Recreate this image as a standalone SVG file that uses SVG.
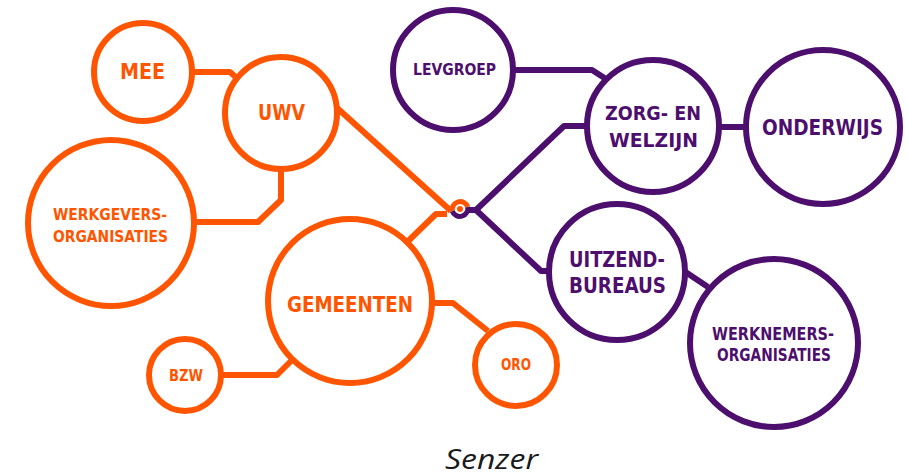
<svg xmlns="http://www.w3.org/2000/svg" width="908" height="476" viewBox="0 0 908 476">
<style>
.o{fill:#fff;stroke:#ff5500;stroke-width:6}
.p{fill:#fff;stroke:#4d0f6e;stroke-width:6}
.lo{fill:none;stroke:#ff5500;stroke-width:6;stroke-linejoin:round}
.lp{fill:none;stroke:#4d0f6e;stroke-width:6;stroke-linejoin:round}
.to{fill:#ff5500;font-family:"DejaVu Sans",sans-serif;font-weight:bold}
.tp{fill:#4d0f6e;font-family:"DejaVu Sans",sans-serif;font-weight:bold}
.cap{fill:#1a1a1a;font-family:"Open Sans",sans-serif;font-style:italic;font-size:27px}
</style>
<rect width="908" height="476" fill="#fff"/>
<g id="connectors">
<path class="lo" d="M192,72 H230 L239,80"/>
<path class="lo" d="M281,168 V200 L258,222 H193"/>
<path class="lo" d="M336,107 L451,211"/>
<path class="lo" d="M404,245 L436,214 H447"/>
<path class="lo" d="M430,303 H453 L488,331"/>
<path class="lo" d="M222,375 H277 L291,361"/>
<path class="lp" d="M513,70 H592 L606,79"/>
<path class="lp" d="M469,210 L476,210 L564,126 H588"/>
<path class="lp" d="M476,210 L541,271 H550"/>
<path class="lp" d="M719,127 H747"/>
<path class="lp" d="M684,271 L708,287"/>
</g>
<g id="hub">
<path d="M452.3,211.1 A8,8 0 0 1 467.7,206.9" fill="none" stroke="#ff5500" stroke-width="5"/>
<path d="M467.7,206.9 A8,8 0 0 1 452.3,211.1" fill="none" stroke="#4d0f6e" stroke-width="5"/>
<circle cx="460" cy="209" r="3" fill="#ff5500"/>
</g>
<g id="mee"><circle class="o" cx="143" cy="72" r="49"/><text class="to" x="120" y="79" font-size="21" textLength="45" lengthAdjust="spacingAndGlyphs">MEE</text></g>
<g id="uwv"><circle class="o" cx="281" cy="113" r="56"/><text class="to" x="258" y="120" font-size="22" textLength="47" lengthAdjust="spacingAndGlyphs">UWV</text></g>
<g id="werkgevers"><circle class="o" cx="111" cy="223" r="83"/><text class="to" x="53" y="220" font-size="16" textLength="114" lengthAdjust="spacingAndGlyphs">WERKGEVERS-</text><text class="to" x="53" y="242" font-size="16" textLength="115" lengthAdjust="spacingAndGlyphs">ORGANISATIES</text></g>
<g id="gemeenten"><circle class="o" cx="350" cy="301" r="82"/><text class="to" x="287" y="312" font-size="22" textLength="126" lengthAdjust="spacingAndGlyphs">GEMEENTEN</text></g>
<g id="bzw"><circle class="o" cx="185" cy="375" r="36"/><text class="to" x="169" y="381" font-size="16" textLength="34" lengthAdjust="spacingAndGlyphs">BZW</text></g>
<g id="oro"><circle class="o" cx="516" cy="365" r="41"/><text class="to" x="501" y="370" font-size="15" textLength="30" lengthAdjust="spacingAndGlyphs">ORO</text></g>
<g id="levgroep"><circle class="p" cx="453" cy="70" r="60"/><text class="tp" x="413" y="75" font-size="16" textLength="83" lengthAdjust="spacingAndGlyphs">LEVGROEP</text></g>
<g id="zorg"><circle class="p" cx="653" cy="126" r="66"/><text class="tp" x="605" y="120" font-size="20" textLength="96" lengthAdjust="spacingAndGlyphs">ZORG- EN</text><text class="tp" x="609" y="147" font-size="20" textLength="89" lengthAdjust="spacingAndGlyphs">WELZIJN</text></g>
<g id="onderwijs"><circle class="p" cx="823" cy="127" r="77"/><text class="tp" x="762" y="135" font-size="21" textLength="121" lengthAdjust="spacingAndGlyphs">ONDERWIJS</text></g>
<g id="uitzend"><circle class="p" cx="617" cy="272" r="68"/><text class="tp" x="569" y="267" font-size="21" textLength="96" lengthAdjust="spacingAndGlyphs">UITZEND-</text><text class="tp" x="569" y="293" font-size="21" textLength="97" lengthAdjust="spacingAndGlyphs">BUREAUS</text></g>
<g id="werknemers"><circle class="p" cx="774" cy="343" r="84"/><text class="tp" x="712" y="340" font-size="17" textLength="122" lengthAdjust="spacingAndGlyphs">WERKNEMERS-</text><text class="tp" x="717" y="361" font-size="17" textLength="114" lengthAdjust="spacingAndGlyphs">ORGANISATIES</text></g>
<text class="cap" x="445" y="469" textLength="93" lengthAdjust="spacingAndGlyphs">Senzer</text>
</svg>
